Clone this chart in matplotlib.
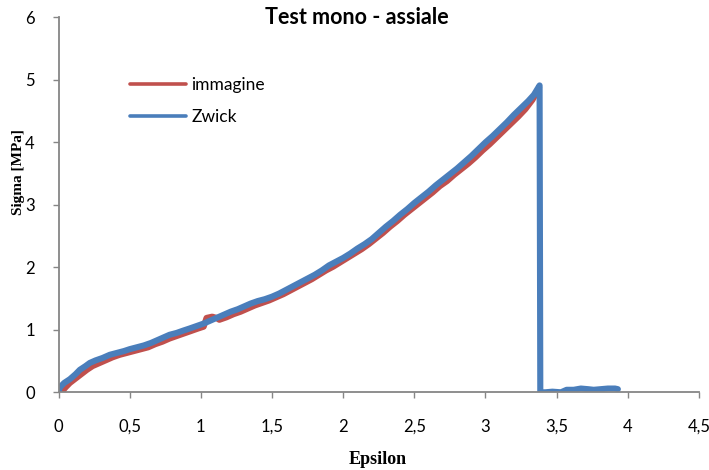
import matplotlib
matplotlib.use('Agg')
import matplotlib.pyplot as plt
from matplotlib.ticker import FuncFormatter

# Zwick (blue) curve
zwick_eps = [0.00, 0.01, 0.04, 0.08, 0.12, 0.15, 0.19, 0.22, 0.26, 0.31, 0.36, 0.41, 0.46,
             0.50, 0.55, 0.60, 0.65, 0.69, 0.74, 0.78, 0.83, 0.88, 0.92, 0.97, 1.02, 1.07,
             1.12, 1.16, 1.21, 1.26, 1.30, 1.35, 1.40, 1.45, 1.50, 1.55, 1.60, 1.65, 1.70,
             1.75, 1.80, 1.85, 1.90, 1.95, 2.00, 2.05, 2.10, 2.15, 2.20, 2.25, 2.30, 2.35,
             2.40, 2.45, 2.50, 2.55, 2.60, 2.65, 2.70, 2.75, 2.80, 2.85, 2.90, 2.95, 3.00,
             3.05, 3.10, 3.15, 3.20, 3.25, 3.30, 3.34, 3.38, 3.385, 3.42, 3.47, 3.53, 3.57,
             3.62, 3.67, 3.72, 3.76, 3.81, 3.86, 3.91, 3.93]
zwick_sig = [0.00, 0.08, 0.15, 0.21, 0.29, 0.36, 0.42, 0.47, 0.51, 0.55, 0.60, 0.63, 0.66,
             0.69, 0.72, 0.75, 0.79, 0.83, 0.88, 0.92, 0.95, 0.99, 1.02, 1.06, 1.10, 1.15,
             1.20, 1.24, 1.29, 1.33, 1.37, 1.42, 1.46, 1.49, 1.53, 1.58, 1.64, 1.70, 1.76,
             1.82, 1.88, 1.95, 2.03, 2.09, 2.15, 2.22, 2.30, 2.37, 2.45, 2.55, 2.65, 2.74,
             2.84, 2.93, 3.03, 3.12, 3.21, 3.31, 3.40, 3.49, 3.58, 3.68, 3.78, 3.89, 4.00,
             4.10, 4.21, 4.32, 4.44, 4.55, 4.66, 4.76, 4.91, 0.00, 0.00, 0.01, 0.00, 0.04,
             0.04, 0.06, 0.05, 0.04, 0.05, 0.06, 0.06, 0.05]

# immagine (red) curve
imm_eps = [0.02, 0.05, 0.08, 0.12, 0.16, 0.20, 0.24, 0.28, 0.33, 0.38, 0.43, 0.48, 0.53,
           0.58, 0.63, 0.68, 0.73, 0.78, 0.83, 0.88, 0.93, 0.98, 1.02, 1.04, 1.08, 1.11,
           1.13, 1.18, 1.23, 1.28, 1.33, 1.38, 1.43, 1.48, 1.53, 1.58, 1.63, 1.68, 1.73,
           1.78, 1.83, 1.88, 1.93, 1.98, 2.03, 2.08, 2.13, 2.18, 2.23, 2.28, 2.33, 2.38,
           2.43, 2.48, 2.53, 2.58, 2.63, 2.68, 2.73, 2.78, 2.83, 2.88, 2.93, 2.98, 3.03,
           3.08, 3.13, 3.18, 3.23, 3.28, 3.33, 3.35]
imm_sig = [0.00, 0.08, 0.15, 0.22, 0.29, 0.36, 0.42, 0.46, 0.51, 0.56, 0.60, 0.63, 0.66,
           0.69, 0.72, 0.77, 0.81, 0.86, 0.90, 0.94, 0.98, 1.02, 1.05, 1.19, 1.21, 1.19,
           1.16, 1.20, 1.25, 1.29, 1.34, 1.39, 1.43, 1.47, 1.52, 1.57, 1.63, 1.69, 1.75,
           1.81, 1.88, 1.95, 2.01, 2.08, 2.15, 2.22, 2.29, 2.37, 2.46, 2.55, 2.65, 2.74,
           2.84, 2.93, 3.02, 3.11, 3.20, 3.30, 3.38, 3.48, 3.57, 3.66, 3.76, 3.87, 3.97,
           4.08, 4.19, 4.30, 4.41, 4.53, 4.68, 4.76]

x_ticks = [0, 0.5, 1, 1.5, 2, 2.5, 3, 3.5, 4, 4.5]
y_ticks = [0, 1, 2, 3, 4, 5, 6]

red = '#C0504D'
blue = '#4A7EBB'
axis_col = '#868686'
sans = ['Lato', 'DejaVu Sans']
serif = ['Liberation Serif', 'DejaVu Serif']

fig = plt.figure(figsize=(7.09, 4.70), dpi=100)
ax = fig.add_axes([58.5 / 709, 1 - 392.3 / 470, (699 - 58.5) / 709, (392.3 - 17.3) / 470])

ax.plot(imm_eps, imm_sig, color=red, lw=4.4, solid_joinstyle='round',
        solid_capstyle='round', label='immagine')
ax.plot(zwick_eps, zwick_sig, color=blue, lw=4.4, solid_joinstyle='round',
        solid_capstyle='round', label='Zwick')

ax.set_xlim(0, 4.5)
ax.set_ylim(0, 6)
ax.set_xticks(x_ticks)
ax.set_yticks(y_ticks)
fmt = FuncFormatter(lambda v, p: ('%g' % v).replace('.', ','))
ax.xaxis.set_major_formatter(fmt)
ax.yaxis.set_major_formatter(fmt)

for s in ['top', 'right']:
    ax.spines[s].set_visible(False)
for s in ['left', 'bottom']:
    ax.spines[s].set_color(axis_col)
    ax.spines[s].set_linewidth(1.3)
ax.tick_params(axis='both', direction='out', length=4, width=1, color=axis_col,
               labelsize=12)
ax.tick_params(axis='x', pad=15)
ax.tick_params(axis='y', pad=13)
for lab in ax.get_xticklabels() + ax.get_yticklabels():
    lab.set_family(sans)

fig.text(356.5 / 709, 1 - 17 / 470, 'Test mono - assiale', ha='center', va='center',
         fontsize=15.5, fontweight='bold', family=sans)
fig.text(378 / 709, 1 - 460 / 470, 'Epsilon', ha='center', va='center',
         fontsize=13, fontweight='bold', family=serif)
fig.text(19 / 709, 1 - 172 / 470, 'Sigma [MPa]', ha='center', va='center',
         rotation=90, fontsize=11, fontweight='bold', family=serif)

leg = ax.legend(loc='upper left', bbox_to_anchor=(130 / 709, 1 - 77 / 470),
                bbox_transform=fig.transFigure, frameon=False, borderpad=0,
                borderaxespad=0, handlelength=3.2, handletextpad=0.35, labelspacing=0.9,
                prop={'family': sans, 'size': 12.5})
for h in leg.get_lines():
    h.set_linewidth(2.6)

fig.savefig('out.png', dpi=100)
